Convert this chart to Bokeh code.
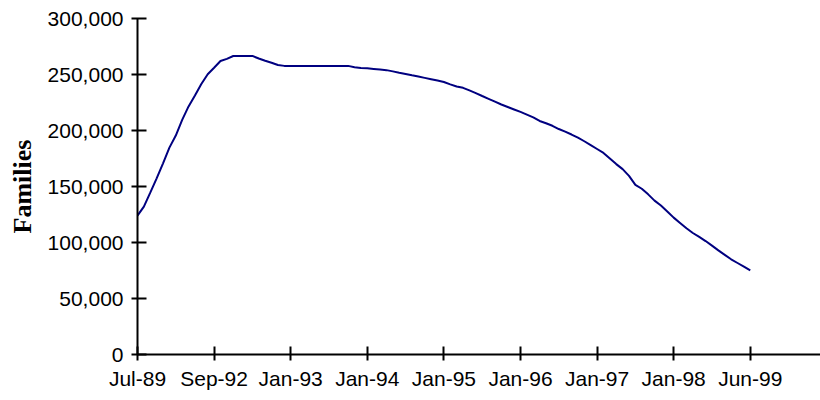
from bokeh.plotting import figure
from bokeh.models import Range1d, FixedTicker, NumeralTickFormatter
from bokeh.embed import file_html
from bokeh.resources import INLINE

# Monthly-ish category index (ticks every 12 categories)
families = [
    124000, 132000, 144500, 157300, 170700, 184700, 195500, 209500, 221500, 231300,
    241500, 250200, 256000, 262000, 264000, 266500, 266600, 266600, 266600, 264300,
    262300, 260500, 258500, 257700, 257700, 257700, 257700, 257700, 257700, 257700,
    257700, 257700, 257700, 257700, 256500, 255800, 255500, 255000, 254500, 253900,
    252800, 251600, 250500, 249300, 248200, 247000, 245800, 244600, 243300, 241200,
    239300, 238100, 235800, 233400, 230800, 228300, 225800, 223200, 221000, 218800,
    216600, 214200, 211700, 208500, 206500, 204200, 201300, 199000, 196400, 193600,
    190400, 187000, 183500, 180000, 175000, 170000, 165500, 159500, 151500, 148000,
    143000, 137400, 133000, 127700, 122200, 117500, 112700, 108500, 105000, 101300,
    97200, 93000, 89000, 85000, 81700, 78400, 75100,
]
category_index = list(range(len(families)))

tick_positions = [0, 12, 24, 36, 48, 60, 72, 84, 96]
tick_labels = ["Jul-89", "Sep-92", "Jan-93", "Jan-94", "Jan-95",
               "Jan-96", "Jan-97", "Jan-98", "Jun-99"]
y_ticks = [0, 50000, 100000, 150000, 200000, 250000, 300000]

p = figure(width=820, height=400, output_backend="svg", toolbar_location=None,
           x_range=Range1d(0, 107.0), y_range=Range1d(0, 300000),
           min_border_left=137, min_border_right=0, min_border_top=18,
           min_border_bottom=46)
p.outline_line_color = None
p.background_fill_color = "white"
p.border_fill_color = "white"
p.xgrid.grid_line_color = None
p.ygrid.grid_line_color = None

p.line(category_index, families, line_color="#000080", line_width=2)

xa = p.xaxis[0]
xa.ticker = FixedTicker(ticks=tick_positions)
xa.major_label_overrides = {t: l for t, l in zip(tick_positions, tick_labels)}
xa.minor_tick_line_color = None
xa.major_tick_in = 8
xa.major_tick_out = 6
xa.axis_line_width = 2
xa.major_tick_line_width = 2
xa.axis_line_color = "black"
xa.major_tick_line_color = "black"
xa.major_label_text_font = "Liberation Sans"
xa.major_label_text_font_size = "21px"
xa.major_label_text_color = "black"
xa.major_label_standoff = 6

ya = p.yaxis[0]
ya.ticker = FixedTicker(ticks=y_ticks)
ya.formatter = NumeralTickFormatter(format="0,0")
ya.minor_tick_line_color = None
ya.major_tick_in = 9
ya.major_tick_out = 6
ya.axis_line_width = 2
ya.major_tick_line_width = 2
ya.axis_line_color = "black"
ya.major_tick_line_color = "black"
ya.major_label_text_font = "Liberation Sans"
ya.major_label_text_font_size = "21px"
ya.major_label_text_color = "black"
ya.major_label_standoff = 8
ya.axis_label = "Families"
ya.axis_label_text_font = "Liberation Serif"
ya.axis_label_text_font_style = "bold"
ya.axis_label_text_font_size = "26px"
ya.axis_label_text_color = "black"
ya.axis_label_standoff = 8

open("out.html", "w").write(file_html(p, INLINE))
